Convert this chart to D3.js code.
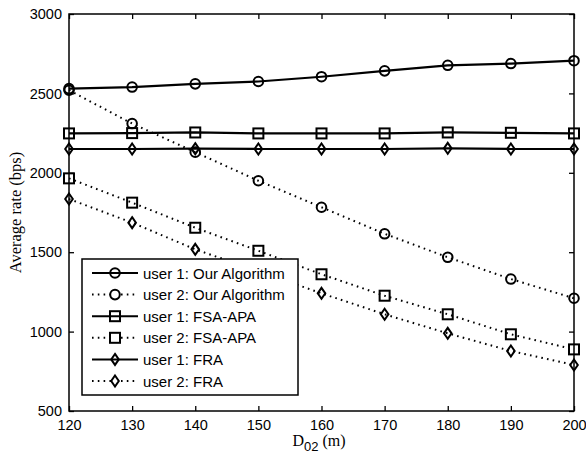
<!DOCTYPE html>
<html>
<head>
<meta charset="utf-8">
<script src="https://cdn.jsdelivr.net/npm/d3@7"></script>
<style>
  body { margin: 0; background: #fff; }
  svg text { fill: #000; }
</style>
</head>
<body>
<svg id="chart" width="586" height="461"></svg>
<script>
// -- data -- //
let distances = [120, 130, 140, 150, 160, 170, 180, 190, 200];
let user1Ours = [2530, 2540, 2560, 2575, 2605, 2642, 2677, 2688, 2706];
let user2Ours = [2520, 2310, 2130, 1950, 1783, 1616, 1468, 1331, 1210];
let user1Fsa = [2248, 2250, 2254, 2248, 2248, 2248, 2254, 2252, 2248];
let user2Fsa = [1965, 1812, 1654, 1509, 1361, 1226, 1109, 983, 888];
let user1Fra = [2150, 2150, 2152, 2150, 2150, 2150, 2154, 2150, 2150];
let user2Fra = [1835, 1686, 1518, 1380, 1241, 1109, 989, 878, 790];
let xTicks = [120, 130, 140, 150, 160, 170, 180, 190, 200];
let yTicks = [500, 1000, 1500, 2000, 2500, 3000];

let series = [
    { name: "user 1: Our Algorithm", values: user1Ours, marker: "circle", dotted: false },
    { name: "user 2: Our Algorithm", values: user2Ours, marker: "circle", dotted: true },
    { name: "user 1: FSA-APA", values: user1Fsa, marker: "square", dotted: false },
    { name: "user 2: FSA-APA", values: user2Fsa, marker: "square", dotted: true },
    { name: "user 1: FRA", values: user1Fra, marker: "diamond", dotted: false },
    { name: "user 2: FRA", values: user2Fra, marker: "diamond", dotted: true }
];

let svg = d3.select("#chart");
let plotLeft = 69, plotTop = 14, plotRight = 574, plotBottom = 411;

let xScale = d3.scaleLinear().domain([120, 200]).range([plotLeft, plotRight]);
let yScale = d3.scaleLinear().domain([500, 3000]).range([plotBottom, plotTop]);

let sansFont = "'Liberation Sans', Arial, sans-serif";
let serifFont = "'Liberation Serif', 'Times New Roman', serif";

// -- axes, MATLAB style ticks pointing inward -- //
let tickLen = 5;
svg.append("g")
    .attr("transform", `translate(0, ${plotBottom})`)
    .call(d3.axisBottom(xScale).tickValues(xTicks).tickFormat(d3.format("d")).tickSizeInner(-tickLen).tickSizeOuter(0).tickPadding(9))
    .call(g => g.select(".domain").remove());
svg.append("g")
    .attr("transform", `translate(0, ${plotTop})`)
    .call(d3.axisTop(xScale).tickValues(xTicks).tickSizeInner(-tickLen).tickSizeOuter(0).tickFormat(""))
    .call(g => g.select(".domain").remove());
svg.append("g")
    .attr("transform", `translate(${plotLeft}, 0)`)
    .call(d3.axisLeft(yScale).tickValues(yTicks).tickFormat(d3.format("d")).tickSizeInner(-tickLen).tickSizeOuter(0).tickPadding(7))
    .call(g => g.select(".domain").remove());
svg.append("g")
    .attr("transform", `translate(${plotRight}, 0)`)
    .call(d3.axisRight(yScale).tickValues(yTicks).tickSizeInner(-tickLen).tickSizeOuter(0).tickFormat(""))
    .call(g => g.select(".domain").remove());

svg.selectAll(".tick line").style("stroke", "#000").style("stroke-width", 1.3);
svg.selectAll(".tick text")
    .style("font-family", sansFont)
    .style("font-size", "14.5px");

// -- line series -- //
let line = d3.line()
    .x((d, i) => xScale(distances[i]))
    .y(d => yScale(d));

series.forEach(s => {
    svg.append("path")
        .datum(s.values)
        .attr("d", line)
        .style("fill", "none")
        .style("stroke", "#000")
        .style("stroke-width", s.dotted ? 2 : 2.2)
        .style("stroke-dasharray", s.dotted ? "1.6,4.2" : null);
});

// -- markers -- //
let drawMarker = (g, kind, cx, cy) => {
    if (kind === "circle") {
        g.append("circle").attr("cx", cx).attr("cy", cy).attr("r", 4.8);
    } else if (kind === "square") {
        g.append("rect").attr("x", cx - 5).attr("y", cy - 5).attr("width", 10).attr("height", 10);
    } else {
        g.append("path").attr("d", `M${cx},${cy - 5.5}L${cx + 3.8},${cy}L${cx},${cy + 5.5}L${cx - 3.8},${cy}Z`);
    }
};

series.forEach(s => {
    let g = svg.append("g")
        .style("fill", "none")
        .style("stroke", "#000")
        .style("stroke-width", 2);
    s.values.forEach((v, i) => drawMarker(g, s.marker, xScale(distances[i]), yScale(v)));
});

// -- plot box -- //
svg.append("rect")
    .attr("x", plotLeft).attr("y", plotTop)
    .attr("width", plotRight - plotLeft).attr("height", plotBottom - plotTop)
    .style("fill", "none")
    .style("stroke", "#000")
    .style("stroke-width", 1.5);

// -- legend -- //
let legend = svg.append("g");
legend.append("rect")
    .attr("x", 82).attr("y", 259)
    .attr("width", 216).attr("height", 136)
    .style("fill", "#fff")
    .style("stroke", "#000")
    .style("stroke-width", 1.5);

series.forEach((s, i) => {
    let y = 273 + i * 21.6;
    legend.append("line")
        .attr("x1", 92).attr("x2", 138)
        .attr("y1", y).attr("y2", y)
        .style("stroke", "#000")
        .style("stroke-width", 2)
        .style("stroke-dasharray", s.dotted ? "1.6,4.2" : null);
    let mg = legend.append("g")
        .style("fill", s.dotted ? "#fff" : "none")
        .style("stroke", "#000")
        .style("stroke-width", 2);
    drawMarker(mg, s.marker, 115, y);
    legend.append("text")
        .attr("x", 143).attr("y", y + 5.5)
        .style("font-family", sansFont)
        .style("font-size", "15px")
        .text(s.name);
});

// -- axis labels -- //
svg.append("text")
    .attr("transform", `translate(21, ${(plotTop + plotBottom) / 2}) rotate(-90)`)
    .attr("text-anchor", "middle")
    .style("font-family", serifFont)
    .style("font-size", "16.5px")
    .text("Average rate (bps)");

let xLabel = svg.append("text")
    .attr("x", 319)
    .attr("y", 446)
    .attr("text-anchor", "middle")
    .style("font-family", serifFont)
    .style("font-size", "16px");
xLabel.append("tspan").text("D");
xLabel.append("tspan").attr("dy", 5).style("font-size", "13px").style("font-family", sansFont).text("02");
xLabel.append("tspan").attr("dy", -5).text(" (m)");
</script>
</body>
</html>
